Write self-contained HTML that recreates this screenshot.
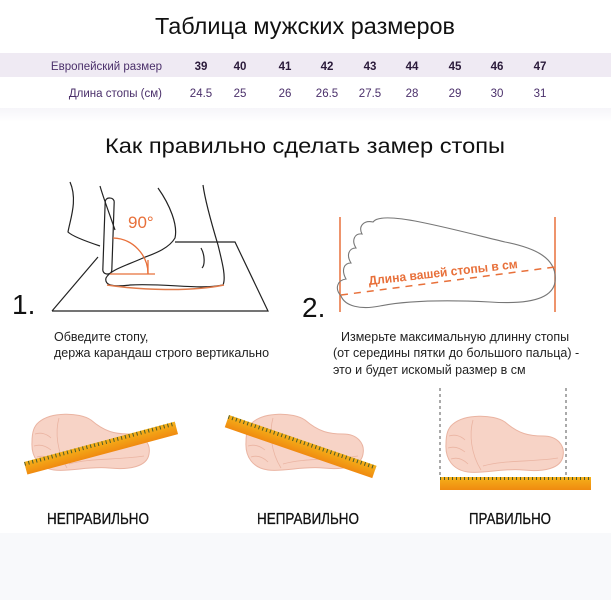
<!DOCTYPE html>
<html><head><meta charset="utf-8"><style>
html,body{margin:0;padding:0;background:#fff}
svg{display:block}
text{font-family:"Liberation Sans","DejaVu Sans",sans-serif}
</style></head><body>
<svg width="611" height="600" viewBox="0 0 611 600" xmlns="http://www.w3.org/2000/svg">
<defs>
<linearGradient id="fade" x1="0" y1="0" x2="0" y2="1"><stop offset="0" stop-color="#f6f5f9"/><stop offset="1" stop-color="#fff"/></linearGradient>
<linearGradient id="rul" x1="0" y1="0" x2="0" y2="1"><stop offset="0" stop-color="#f5b21a"/><stop offset="1" stop-color="#f08a10"/></linearGradient>
<pattern id="ticks" width="4" height="14" patternUnits="userSpaceOnUse"><rect x="0" y="0" width="1" height="4" fill="#4a5a2a"/></pattern>
<g id="foot">
<path d="M10,10 C22,0 50,0 62,8 C76,20 86,22 100,22 C115,22 122,32 120,42 C118,55 100,58 80,56 C60,54 40,60 25,58 C10,56 2,45 3,30 C3,20 5,14 10,10 Z" fill="#f7d3c6" stroke="#eab4a2" stroke-width="1"/>
<path d="M30,6 C26,20 28,40 38,56" fill="none" stroke="#eab4a2" stroke-width="0.8"/>
<path d="M6,22 C12,20 18,22 22,26 M5,34 C11,32 17,34 22,38 M8,45 C14,43 20,45 25,50" fill="none" stroke="#eab4a2" stroke-width="0.8"/>
<path d="M40,52 C60,46 90,48 115,44" fill="none" stroke="#eab4a2" stroke-width="0.8"/>
</g>
</defs>
<rect x="0" y="0" width="611" height="600" fill="#fff"/>
<text x="305" y="34" font-size="23" text-anchor="middle" fill="#111" textLength="300" lengthAdjust="spacingAndGlyphs">Таблица мужских размеров</text>
<rect x="0" y="53" width="611" height="24" fill="#efeaf3"/>
<rect x="0" y="108" width="611" height="14" fill="url(#fade)"/>
<g font-size="11.5" fill="#4a2f6a">
<text x="162" y="70" text-anchor="end">Европейский размер</text>
<text x="162" y="97" text-anchor="end">Длина стопы (см)</text>
<g font-weight="bold" text-anchor="middle" fill="#2a1a3a">
<text x="201" y="70">39</text><text x="240" y="70">40</text><text x="285" y="70">41</text><text x="327" y="70">42</text><text x="370" y="70">43</text><text x="412" y="70">44</text><text x="455" y="70">45</text><text x="497" y="70">46</text><text x="540" y="70">47</text>
</g>
<g text-anchor="middle">
<text x="201" y="97">24.5</text><text x="240" y="97">25</text><text x="285" y="97">26</text><text x="327" y="97">26.5</text><text x="370" y="97">27.5</text><text x="412" y="97">28</text><text x="455" y="97">29</text><text x="497" y="97">30</text><text x="540" y="97">31</text>
</g>
</g>
<text x="305" y="153" font-size="21" text-anchor="middle" fill="#111" textLength="400" lengthAdjust="spacingAndGlyphs">Как правильно сделать замер стопы</text>

<!-- section 1 -->
<text x="12" y="314" font-size="28" fill="#111">1.</text>
<g fill="none" stroke="#222" stroke-width="1.2">
<path d="M52,311 L268,311 L235,242 L175,242 M52,311 L98,257"/>
<path d="M70,182 C78,200 70,220 68,232 C72,236 88,242 100,246"/>
<path d="M100,186 C104,200 110,215 115,230"/>
<path d="M158,188 C170,205 178,225 175,238 C168,250 150,255 143,258 C125,266 110,270 106,278 C104,286 115,287 130,285 C165,283 200,290 223,285 C226,278 223,265 218,245 C212,225 205,200 203,185"/>
<rect x="104" y="198" width="9" height="76" rx="4" transform="rotate(2 108 236)"/>
<path d="M201,248 C205,255 205,265 202,268"/>
</g>
<path d="M107,285 C140,290 190,292 224,285" fill="none" stroke="#e07a4a" stroke-width="1.5"/>
<g fill="none" stroke="#e8703a" stroke-width="1.3">
<path d="M113,238 A36,36 0 0 1 148,274"/>
<path d="M110,274 L155,274 M148,260 L148,274"/>
</g>
<text x="128" y="228" font-size="17" fill="#e8703a">90°</text>
<text x="54" y="341" font-size="12.5" fill="#222">Обведите стопу,</text>
<text x="54" y="357" font-size="12.5" fill="#222">держа карандаш строго вертикально</text>

<!-- section 2 -->
<text x="302" y="317" font-size="28" fill="#111">2.</text>
<g stroke="#e8703a" stroke-width="1.5">
<line x1="340" y1="217" x2="340" y2="312"/>
<line x1="555" y1="217" x2="555" y2="312"/>
</g>
<path d="M341,296 C334,288 338,280 346,279 C341,270 344,263 351,263 C346,255 349,248 356,248 C351,240 355,233 362,234 C358,226 364,220 373,222 C378,215 400,218 420,222 C450,228 480,236 505,242 C535,248 558,258 555,282 C552,302 520,304 490,302 C450,300 410,300 380,306 C360,310 345,306 341,296 Z" fill="none" stroke="#777" stroke-width="1.1"/>
<line x1="341" y1="295" x2="555" y2="267" stroke="#e8703a" stroke-width="1.5" stroke-dasharray="7,6"/>
<text x="0" y="0" font-size="12.5" font-weight="bold" fill="#e8703a" textLength="150" lengthAdjust="spacingAndGlyphs" transform="translate(369,285) rotate(-6.5)">Длина вашей стопы в см</text>
<g font-size="12.5" fill="#222">
<text x="341" y="341">Измерьте максимальную длинну стопы</text>
<text x="333" y="357">(от середины пятки до большого пальца) -</text>
<text x="333" y="374">это и будет искомый размер в см</text>
</g>

<!-- bottom -->
<use href="#foot" transform="translate(29,412)"/>
<g transform="translate(24,462) rotate(-15)"><rect x="0" y="0" width="156" height="13" fill="url(#rul)"/><rect x="0" y="0" width="156" height="4" fill="url(#ticks)"/></g>
<use href="#foot" transform="translate(243,412)"/>
<g transform="translate(229,415) rotate(19)"><rect x="0" y="0" width="156" height="13" fill="url(#rul)"/><rect x="0" y="0" width="156" height="4" fill="url(#ticks)"/></g>
<use href="#foot" transform="translate(443,414)"/>
<g stroke="#555" stroke-width="1" stroke-dasharray="3,3">
<line x1="440" y1="388" x2="440" y2="478"/>
<line x1="566" y1="388" x2="566" y2="478"/>
</g>
<rect x="440" y="477" width="151" height="13" fill="url(#rul)"/>
<rect x="440" y="477" width="151" height="4" fill="url(#ticks)"/>
<rect x="0" y="533" width="611" height="67" fill="#f8f9fb"/>
<g font-size="16" fill="#111" text-anchor="middle" stroke="#111" stroke-width="0.3" style="font-family:'Liberation Sans Narrow','Liberation Sans',sans-serif">
<text x="98" y="524" textLength="102" lengthAdjust="spacingAndGlyphs">НЕПРАВИЛЬНО</text>
<text x="308" y="524" textLength="102" lengthAdjust="spacingAndGlyphs">НЕПРАВИЛЬНО</text>
<text x="510" y="524" textLength="82" lengthAdjust="spacingAndGlyphs">ПРАВИЛЬНО</text>
</g>
</svg>
</body></html>
